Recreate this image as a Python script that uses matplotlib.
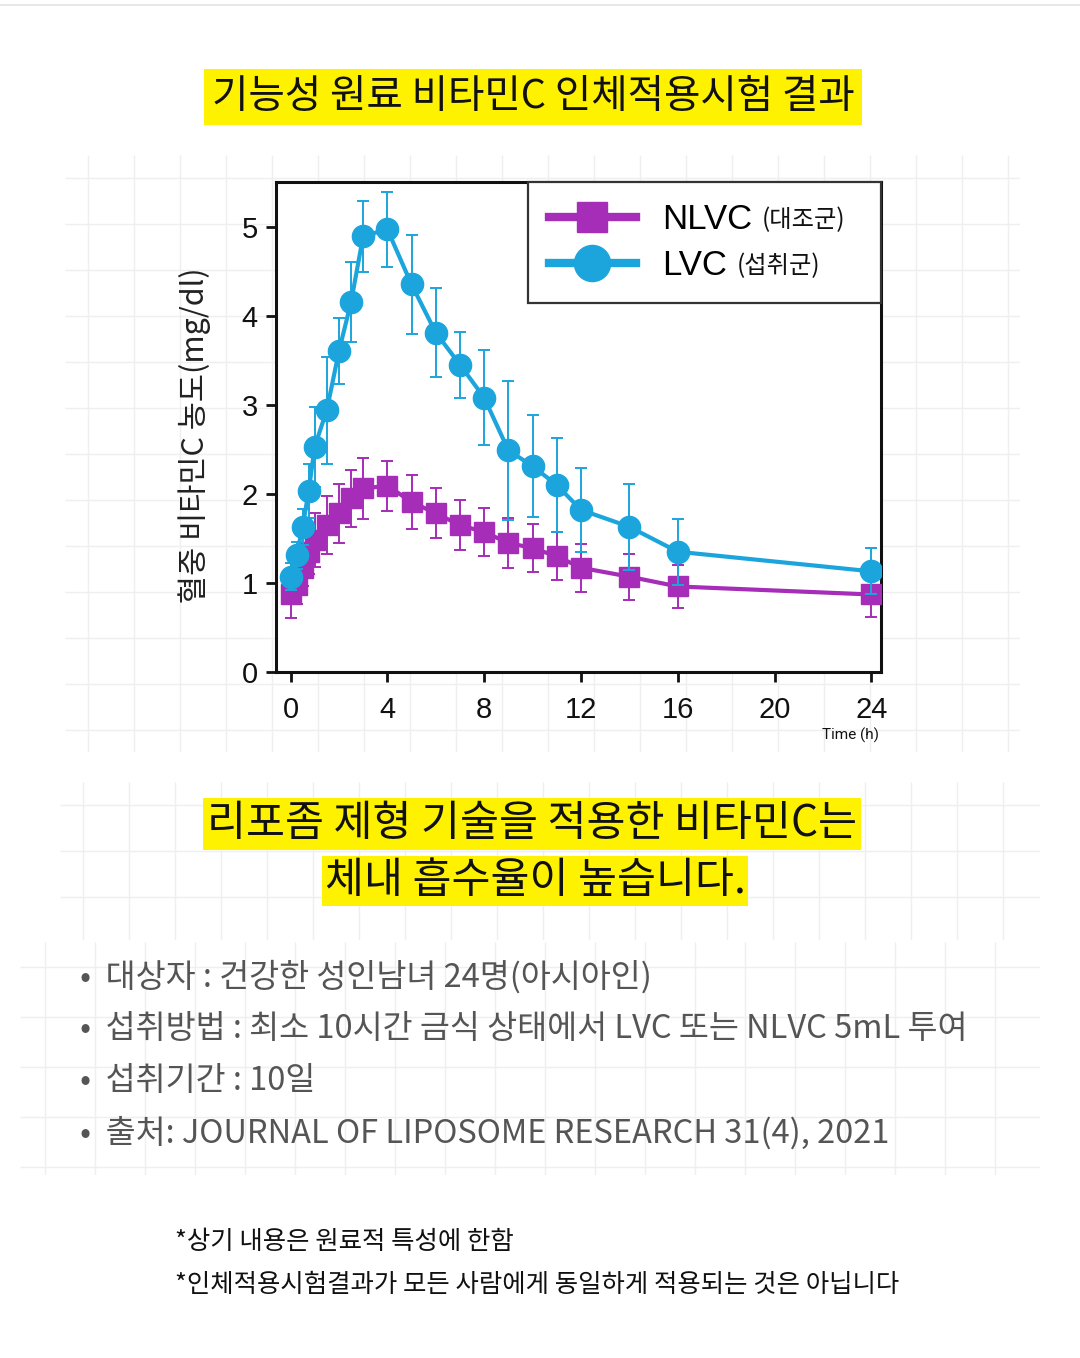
import numpy as np
import matplotlib
matplotlib.use("Agg")
import matplotlib.pyplot as plt
from matplotlib.lines import Line2D

plt.rcParams['font.family'] = ['Noto Sans CJK KR', 'DejaVu Sans']

W, H = 1080, 1358

# 데이터
time_h = [0, 0.25, 0.5, 0.75, 1, 1.5, 2, 2.5, 3, 4, 5, 6, 7, 8, 9, 10, 11, 12, 14, 16, 24]
nlvc = [0.87, 0.98, 1.17, 1.35, 1.48, 1.65, 1.78, 1.95, 2.06, 2.09, 1.91, 1.78,
        1.65, 1.57, 1.45, 1.39, 1.30, 1.17, 1.07, 0.96, 0.87]
nlvc_err = [0.26, 0.22, 0.20, 0.25, 0.30, 0.32, 0.33, 0.32, 0.34, 0.28, 0.30, 0.28,
            0.28, 0.27, 0.28, 0.27, 0.27, 0.27, 0.26, 0.24, 0.25]
lvc = [1.07, 1.31, 1.63, 2.03, 2.53, 2.94, 3.60, 4.15, 4.89, 4.97, 4.35, 3.81,
       3.45, 3.08, 2.49, 2.31, 2.10, 1.82, 1.63, 1.35, 1.13]
lvc_err = [0.15, 0.15, 0.20, 0.30, 0.45, 0.60, 0.37, 0.45, 0.40, 0.42, 0.56, 0.50,
           0.37, 0.53, 0.78, 0.57, 0.53, 0.47, 0.48, 0.37, 0.26]
x_ticks = [0, 4, 8, 12, 16, 20, 24]
y_ticks = [0, 1, 2, 3, 4, 5]

PURPLE = '#A52DB8'
BLUE = '#1CA5DC'
YELLOW = '#FFF200'


def fx(x):
    return x / W


def fy(y):
    return 1 - y / H


def add_grid(fig, x0, y0, x1, y1, step):
    """배경의 옅은 격자"""
    g = fig.add_axes([fx(x0), fy(y1), (x1 - x0) / W, (y1 - y0) / H], zorder=0)
    g.set_xlim(x0, x1)
    g.set_ylim(y1, y0)
    g.vlines(np.arange(x0 + step / 2, x1, step), y0, y1, color='#efefef', lw=1)
    g.hlines(np.arange(y0 + step / 2, y1, step), x0, x1, color='#efefef', lw=1)
    g.axis('off')


fig = plt.figure(figsize=(W / 100, H / 100), dpi=100)
fig.patch.set_facecolor('white')

add_grid(fig, 65, 155, 1020, 752, 46)
add_grid(fig, 60, 782, 1040, 940, 46)
add_grid(fig, 20, 942, 1040, 1175, 50)
fig.add_artist(Line2D([0, 1], [fy(5), fy(5)], color='#e4e4e4', lw=1.2))

# 제목
fig.text(fx(533), fy(97), '기능성 원료 비타민C 인체적용시험 결과', fontsize=28.5,
         ha='center', va='center', color='#111111',
         bbox=dict(boxstyle='square,pad=0.2', facecolor=YELLOW, edgecolor='none'))

# 그래프
ax = fig.add_axes([fx(276), fy(672), (881 - 276) / W, (672 - 182) / H], zorder=1)
ax.set_facecolor('white')
ax.errorbar(time_h, nlvc, yerr=nlvc_err, fmt='-s', color=PURPLE, ms=14, lw=3,
            elinewidth=1.4, capsize=4, capthick=1.4, zorder=3)
ax.errorbar(time_h, lvc, yerr=lvc_err, fmt='-o', color=BLUE, ms=16, lw=3,
            elinewidth=1.4, capsize=4, capthick=1.4, zorder=4)

ax.set_xlim(-0.6, 24.4)
ax.set_ylim(0, 5.5)
ax.set_xticks(x_ticks)
ax.set_yticks(y_ticks)
for s in ax.spines.values():
    s.set_linewidth(2.2)
    s.set_color('#111111')
ax.tick_params(axis='both', direction='out', length=7, width=2, labelsize=21,
               colors='#111111')
ax.tick_params(axis='x', pad=10)
ax.tick_params(axis='y', pad=6)
for lab in ax.get_xticklabels() + ax.get_yticklabels():
    lab.set_family('Liberation Sans')

ax.set_ylabel('혈중 비타민C 농도(mg/dl)', fontsize=22, color='#222222')
ax.yaxis.set_label_coords(-0.108, 0.484)
fig.text(fx(850), fy(735), 'Time (h)', fontsize=11, ha='center', va='center',
         family=['Roboto', 'DejaVu Sans'], color='#111111')

handles = [Line2D([], [], color=PURPLE, marker='s', ms=21, lw=6),
           Line2D([], [], color=BLUE, marker='o', ms=26, lw=6)]
leg = ax.legend(handles, ['NLVC', 'LVC'], loc='upper right',
                bbox_to_anchor=(0.4165, 0, 0.5835, 1), mode='expand',
                borderaxespad=0, fancybox=False, framealpha=1,
                prop={'family': 'Liberation Sans', 'size': 25},
                handlelength=2.5, handletextpad=0.75, labelspacing=0.38,
                borderpad=0.6)
leg.get_frame().set_edgecolor('#333333')
leg.get_frame().set_linewidth(1.6)
for t, extra in zip(leg.get_texts(), ['(대조군)', '(섭취군)']):
    ax.annotate(extra, xy=(1, 0.08), xycoords=t, xytext=(7, 0),
                textcoords='offset points', fontsize=17.5, va='bottom',
                color='#111111', zorder=10)

# 강조 문구
fig.text(fx(532), fy(824), '리포좀 제형 기술을 적용한 비타민C는', fontsize=30.5,
         ha='center', va='center', color='#111111',
         bbox=dict(boxstyle='square,pad=0.1', facecolor=YELLOW, edgecolor='none'))
fig.text(fx(535), fy(881), '체내 흡수율이 높습니다.', fontsize=30.5,
         ha='center', va='center', color='#111111',
         bbox=dict(boxstyle='square,pad=0.06', facecolor=YELLOW, edgecolor='none'))

# 시험 정보
bullets = ['•  대상자 : 건강한 성인남녀 24명(아시아인)',
           '•  섭취방법 : 최소 10시간 금식 상태에서 LVC 또는 NLVC 5mL 투여',
           '•  섭취기간 : 10일',
           '•  출처: JOURNAL OF LIPOSOME RESEARCH 31(4), 2021']
for i, b in enumerate(bullets):
    fig.text(fx(80), fy(977 + i * 52), b, fontsize=23.5, ha='left', va='center',
             color='#555555')

notes = ['*상기 내용은 원료적 특성에 한함',
         '*인체적용시험결과가 모든 사람에게 동일하게 적용되는 것은 아닙니다']
for i, n in enumerate(notes):
    fig.text(fx(175), fy(1242 + i * 43), n, fontsize=18.3, ha='left', va='center',
             color='#111111')

fig.savefig('out.png', dpi=100, facecolor='white')
